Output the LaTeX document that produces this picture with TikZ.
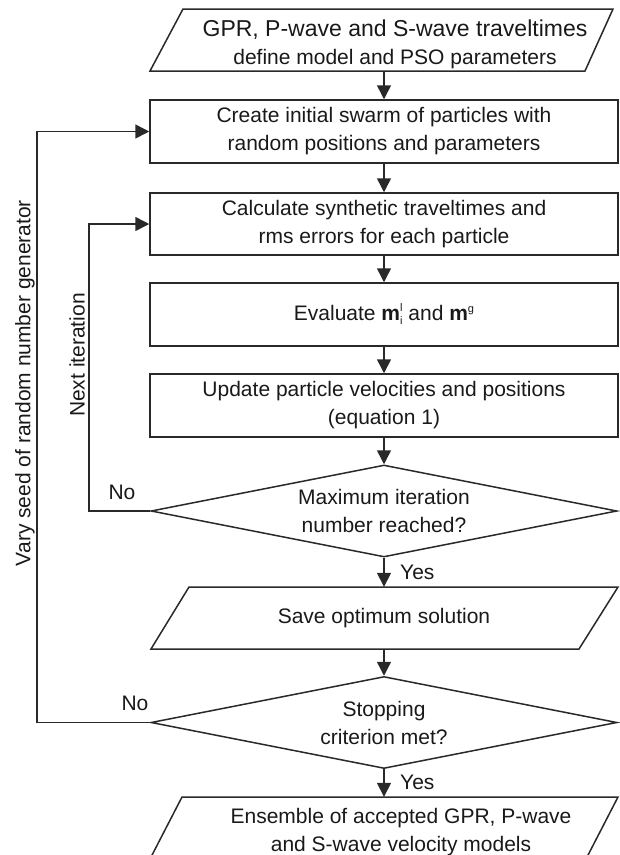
\documentclass[tikz,border=0pt]{standalone}
\usepackage{fontspec}
\setmainfont{Liberation Sans}
\usetikzlibrary{arrows.meta,shapes.geometric,calc}
\definecolor{lc}{gray}{0.16}
\definecolor{tx}{gray}{0.1}
\newcommand\myfs{\fontsize{21}{28}\selectfont}
\newcommand\mysmall{\fontsize{11}{11}\selectfont}
\begin{document}
\begin{tikzpicture}[x=1pt,y=-1pt,
  every node/.style={text=tx, font=\myfs},
  ln/.style={draw=lc, line width=1.5pt},
  arr/.style={draw=lc, line width=1.5pt, -{Triangle[length=14pt,width=14pt]}},
  stepbox/.style={draw=lc, line width=1.5pt, minimum width=468pt, minimum height=63pt, inner sep=0pt, align=center},
  txtbox/.style={inner sep=0pt, align=center},
  decision/.style={diamond, draw=lc, line width=1.5pt, inner sep=0pt, shape aspect=5, minimum width=466pt, minimum height=92pt, align=center},
  lab/.style={inner sep=0pt}]
\useasboundingbox (0,0) rectangle (620,855);
\clip (0,0) rectangle (620,855);

% input parallelogram
\draw[ln] (150,71) -- (183,9) -- (613,9) -- (585,71) -- cycle;
\node[txtbox, minimum height=54pt] (in1) at (395,44)
  {{\fontsize{23}{27}\selectfont GPR, P-wave and S-wave traveltimes}\\define model and PSO parameters};

\node[stepbox] (b2) at (384,131.5) {Create initial swarm of particles with\\random positions and parameters};
\node[stepbox, minimum height=62pt] (b3) at (384,224) {Calculate synthetic traveltimes and\\rms errors for each particle};
\node[stepbox] (b4) at (384,314.5) {Evaluate \textbf{m}\makebox[0pt][l]{\raisebox{9pt}{\mysmall l}}\raisebox{-4pt}{\mysmall i} and \textbf{m}\raisebox{8pt}{\mysmall g}};
\node[stepbox] (b5) at (384,405.5) {Update particle velocities and positions\\(equation 1)};
\node[decision] (d1) at (384,511) {Maximum iteration\\number reached?};

% save parallelogram
\draw[ln] (151,649) -- (189,587) -- (618,587) -- (579,649) -- cycle;
\node[txtbox, minimum height=62pt] (s1) at (384,618) {Save optimum solution};

\node[decision] (d2) at (384,722.5) {Stopping\\criterion met?};

% output parallelogram
\draw[ln] (182,797) -- (618,797) -- (586,859) -- (150,859) -- cycle;
\node[txtbox, minimum height=70pt] (e1) at (401,832) {Ensemble of accepted GPR, P-wave\\and S-wave velocity models};

% connectors
\draw[arr] (b2.north |- in1.south) -- (b2.north);
\draw[arr] (b2.south) -- (b3.north);
\draw[arr] (b3.south) -- (b4.north);
\draw[arr] (b4.south) -- (b5.north);
\draw[arr] (b5.south) -- (d1.north);
\draw[arr] (d1.south) -- (d1.south |- s1.north);
\draw[arr] (d2.north |- s1.south) -- (d2.north);
\draw[arr] (d2.south) -- (d2.south |- e1.north);

\coordinate (lpA) at (89,0);
\coordinate (lpB) at (37,0);
\draw[arr] (d1.west) -- (d1.west -| lpA) |- (b3.west);
\draw[arr] (d2.west) -- (d2.west -| lpB) |- (b2.west);

% labels
\node[lab] (no1) at (122,492) {No};
\node[lab] (no2) at (135,703) {No};
\node[lab, anchor=west] (yes1) at (400,572) {Yes};
\node[lab, anchor=west] (yes2) at (400,782) {Yes};
\node[lab, rotate=90] (nextit) at (77,355) {Next iteration};
\node[lab, rotate=90] (vary) at (25,383) {Vary seed of random number generator};
\end{tikzpicture}
\end{document}
